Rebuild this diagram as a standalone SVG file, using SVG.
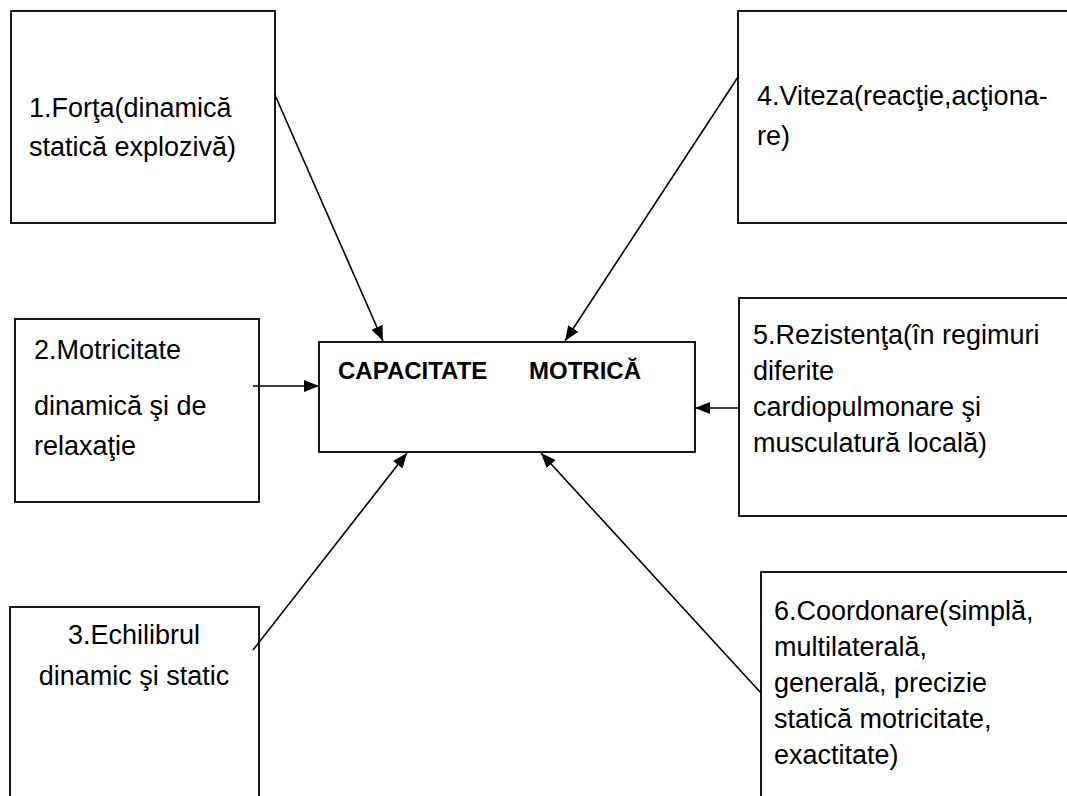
<svg xmlns="http://www.w3.org/2000/svg" width="1067" height="796" viewBox="0 0 1067 796">
  <style>
    .box { fill: #ffffff; stroke: #000000; stroke-width: 1.8; }
    .t { font-family: "Liberation Sans", Arial, sans-serif; font-size: 27px; fill: #000000; }
    .b { font-family: "Liberation Sans", Arial, sans-serif; font-size: 24px; font-weight: bold; fill: #000000; }
    .c { stroke: #000000; stroke-width: 1.6; fill: none; marker-end: url(#arrow); }
  </style>
  <defs>
    <marker id="arrow" markerUnits="userSpaceOnUse" markerWidth="15" markerHeight="12" refX="15" refY="6" orient="auto">
      <path d="M0,0 L15,6 L0,12 Z" fill="#000000"/>
    </marker>
  </defs>
  <rect width="1067" height="796" fill="#ffffff"/>

  <g id="node-forta">
    <rect class="box" x="11" y="11" width="264" height="212"/>
    <text class="t" x="29" y="117">1.Forţa(dinamică</text>
    <text class="t" x="29" y="156">statică explozivă)</text>
  </g>

  <g id="node-viteza">
    <rect class="box" x="738" y="11" width="345" height="212"/>
    <text class="t" x="757" y="105">4.Viteza(reacţie,acţiona-</text>
    <text class="t" x="757" y="145">re)</text>
  </g>

  <g id="node-motricitate">
    <rect class="box" x="15" y="319" width="244" height="183"/>
    <text class="t" x="34" y="359">2.Motricitate</text>
    <text class="t" x="34" y="415">dinamică şi de</text>
    <text class="t" x="34" y="455">relaxaţie</text>
  </g>

  <g id="node-capacitate">
    <rect class="box" x="319" y="342" width="376" height="110"/>
    <text class="b" x="338" y="379">CAPACITATE</text>
    <text class="b" x="529" y="379">MOTRICĂ</text>
  </g>

  <g id="node-rezistenta">
    <rect class="box" x="739" y="298" width="345" height="218"/>
    <text class="t" x="753" y="344">5.Rezistenţa(în regimuri</text>
    <text class="t" x="753" y="380">diferite</text>
    <text class="t" x="753" y="416">cardiopulmonare şi</text>
    <text class="t" x="753" y="452">musculatură locală)</text>
  </g>

  <g id="node-echilibrul">
    <rect class="box" x="10" y="607" width="249" height="210"/>
    <text class="t" x="134" y="644" text-anchor="middle">3.Echilibrul</text>
    <text class="t" x="134" y="685" text-anchor="middle">dinamic şi static</text>
  </g>

  <g id="node-coordonare">
    <rect class="box" x="761" y="572" width="325" height="240"/>
    <text class="t" x="774" y="620">6.Coordonare(simplă,</text>
    <text class="t" x="774" y="656">multilaterală,</text>
    <text class="t" x="774" y="692">generală, precizie</text>
    <text class="t" x="774" y="728">statică motricitate,</text>
    <text class="t" x="774" y="764">exactitate)</text>
  </g>

  <g id="connectors">
    <line class="c" x1="275" y1="95" x2="383" y2="341"/>
    <line class="c" x1="738" y1="77" x2="565" y2="341"/>
    <line class="c" x1="253" y1="386" x2="319" y2="386"/>
    <line class="c" x1="739" y1="408" x2="695" y2="408"/>
    <line class="c" x1="253" y1="650" x2="407" y2="453"/>
    <line class="c" x1="761" y1="693" x2="541" y2="453"/>
  </g>
</svg>
